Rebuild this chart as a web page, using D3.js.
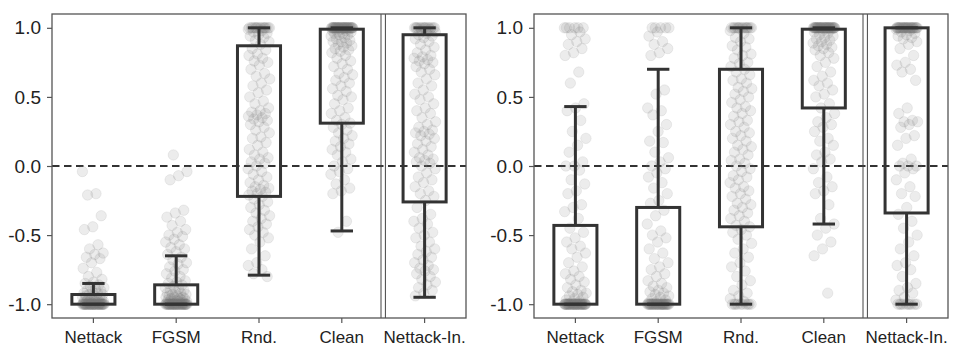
<!DOCTYPE html>
<html>
  <head>
    <meta charset="utf-8">
    <title>Box plots</title>
    <style media="screen">
      body {
        margin: 0;
        background: #fff;
      }
      text {
        font-family: "Liberation Sans", Arial, sans-serif;
        fill: #222;
      }
    </style>
  </head>
  <body>
    <div id="chart"></div>
  </body>
  <script type="text/javascript" src="https://cdnjs.cloudflare.com/ajax/libs/d3/7.8.5/d3.min.js"></script>
  <script type="text/javascript">
  var categories = ['Nettack', 'FGSM', 'Rnd.', 'Clean', 'Nettack-In.'];
  var yTicks = [-1.0, -0.5, 0.0, 0.5, 1.0];

  // left panel, one array per category
  var leftNettack = [-0.04,-0.2,-0.21,-0.36,-0.44,-0.46,-0.57,-0.6,-0.63,-0.64,-0.66,-0.67,-0.7,-0.74,-0.77,-0.8,-0.82,-0.84,-0.85,-0.86,-0.87,-0.88,-0.89,-0.9,-0.9,-0.91,-0.92,-0.92,-0.93,-0.93,-0.94,-0.94,-0.95,-0.95,-0.95,-0.96,-0.96,-0.96,-0.97,-0.97,-0.97,-0.98,-0.98,-0.98,-0.98,-0.99,-0.99,-0.99,-0.99,-0.99,
    -1,-1,-1,-1,-1,-1,-1,-1,-1,-1,-1,-1,-1,-1,-1,-1,-1,-1,-1,-1,-1,-1,-1,-1,-1,-1,-1,-1,-1,-1,-1,-1,-1,-1,-1,-1,-1,-1,-1,-1];
  var leftFgsm = [0.08,-0.04,-0.07,-0.1,-0.32,-0.34,-0.37,-0.4,-0.43,-0.46,-0.48,-0.5,-0.51,-0.53,-0.55,-0.57,-0.59,-0.6,-0.62,-0.64,-0.66,-0.68,-0.7,-0.71,-0.73,-0.75,-0.76,-0.78,-0.8,-0.81,-0.83,-0.84,-0.85,-0.86,-0.87,-0.88,-0.89,-0.9,-0.9,-0.91,-0.92,-0.92,-0.93,-0.93,-0.94,-0.94,-0.95,-0.95,-0.95,-0.96,-0.96,-0.96,-0.97,-0.97,-0.97,-0.98,-0.98,-0.98,-0.98,-0.99,-0.99,-0.99,-0.99,
    -1,-1,-1,-1,-1,-1,-1,-1,-1,-1,-1,-1,-1,-1,-1,-1,-1,-1,-1,-1,-1,-1,-1,-1,-1,-1,-1,-1,-1,-1,-1,-1,-1,-1,-1,-1,-1,-1,-1,-1];
  var leftRnd = [1,1,1,1,1,1,1,1,1,1,1,1,1,1,1,0.99,0.98,0.97,0.96,0.95,0.94,0.93,0.91,0.9,0.88,0.85,0.84,0.81,0.8,0.78,0.76,0.75,0.73,0.7,0.67,0.65,0.63,0.6,0.58,0.55,0.53,0.5,0.47,0.45,0.42,0.4,0.39,0.38,0.37,0.36,0.35,0.34,0.33,0.32,0.3,0.28,0.26,0.24,0.21,0.2,0.17,0.15,0.12,0.1,0.08,0.06,0.05,0.03,0.02,0.0,-0.02,-0.04,-0.06,-0.08,-0.1,-0.12,-0.14,-0.15,-0.16,-0.17,-0.18,-0.19,-0.2,-0.21,-0.22,-0.24,-0.26,-0.28,-0.3,-0.32,-0.34,-0.36,-0.38,-0.4,-0.42,-0.44,-0.46,-0.48,-0.5,-0.52,-0.55,-0.6,-0.65,-0.7,-0.72,-0.75,-0.78,-0.8];
  var leftClean = [1,1,1,1,1,1,1,1,1,1,1,1,1,1,1,1,1,1,1,1,1,1,1,1,1,1,1,1,1,1,1,1,1,1,1,1,1,1,1,1,
    0.99,0.99,0.98,0.98,0.97,0.97,0.96,0.96,0.95,0.95,0.94,0.93,0.92,0.91,0.9,0.9,0.89,0.88,0.87,0.86,0.85,0.84,0.83,0.82,0.8,0.78,0.76,0.74,0.72,0.7,0.67,0.66,0.64,0.62,0.6,0.58,0.56,0.54,0.51,0.5,0.48,0.45,0.42,0.4,0.38,0.35,0.33,0.31,0.3,0.28,0.26,0.24,0.22,0.2,0.18,0.16,0.14,0.12,0.1,0.08,0.05,0.03,0.0,-0.02,-0.04,-0.06,-0.1,-0.13,-0.16,-0.18,-0.2,-0.4,-0.48];
  var leftNettackIn = [1,1,1,1,1,1,1,1,1,1,1,1,1,1,1,0.99,0.98,0.97,0.96,0.95,0.94,0.93,0.92,0.9,0.88,0.86,0.84,0.82,0.8,0.79,0.78,0.77,0.76,0.75,0.74,0.72,0.7,0.68,0.66,0.63,0.6,0.58,0.55,0.52,0.5,0.48,0.45,0.42,0.4,0.38,0.35,0.32,0.3,0.28,0.26,0.25,0.24,0.23,0.22,0.2,0.18,0.16,0.14,0.12,0.1,0.08,0.06,0.05,0.04,0.03,0.02,0.0,-0.02,-0.05,-0.08,-0.1,-0.12,-0.15,-0.18,-0.2,-0.22,-0.25,-0.3,-0.35,-0.38,-0.4,-0.42,-0.45,-0.48,-0.5,-0.52,-0.55,-0.58,-0.6,-0.62,-0.64,-0.66,-0.68,-0.7,-0.72,-0.74,-0.75,-0.76,-0.78,-0.8,-0.82,-0.84,-0.86,-0.88,-0.9,-0.92,-0.94];

  // right panel
  var rightNettack = [1,1,1,1,1,1,0.97,0.95,0.92,0.9,0.88,0.85,0.82,0.8,0.68,0.6,0.45,0.42,0.4,0.33,0.25,0.2,0.15,0.1,0.03,0.0,0.0,-0.03,-0.1,-0.13,-0.18,-0.2,-0.28,-0.3,-0.33,-0.38,-0.45,-0.48,-0.52,-0.55,-0.58,-0.6,-0.63,-0.66,-0.7,-0.73,-0.76,-0.78,-0.8,-0.82,-0.84,-0.86,-0.88,-0.9,-0.91,-0.92,-0.93,-0.94,-0.95,-0.96,-0.97,-0.98,-0.99,
    -1,-1,-1,-1,-1,-1,-1,-1,-1,-1,-1,-1,-1,-1,-1,-1,-1,-1,-1,-1,-1,-1,-1,-1,-1,-1,-1,-1,-1,-1,-1,-1,-1,-1,-1,-1,-1,-1,-1,-1];
  var rightFgsm = [1,1,1,1,1,0.97,0.94,0.9,0.88,0.85,0.82,0.8,0.55,0.52,0.42,0.4,0.37,0.3,0.25,0.18,0.17,0.1,0.06,0.03,0.0,-0.02,-0.05,-0.08,-0.12,-0.16,-0.2,-0.25,-0.27,-0.32,-0.36,-0.42,-0.47,-0.5,-0.52,-0.55,-0.6,-0.63,-0.67,-0.7,-0.73,-0.75,-0.78,-0.8,-0.83,-0.85,-0.87,-0.88,-0.9,-0.91,-0.92,-0.93,-0.94,-0.95,-0.96,-0.97,-0.98,-0.99,
    -1,-1,-1,-1,-1,-1,-1,-1,-1,-1,-1,-1,-1,-1,-1,-1,-1,-1,-1,-1,-1,-1,-1,-1,-1,-1,-1,-1,-1,-1,-1,-1,-1,-1,-1];
  var rightRnd = [1,1,1,1,1,1,1,1,1,1,1,1,1,1,1,0.98,0.96,0.93,0.92,0.9,0.87,0.86,0.84,0.81,0.8,0.78,0.75,0.74,0.72,0.7,0.68,0.66,0.63,0.62,0.6,0.57,0.56,0.54,0.52,0.5,0.48,0.46,0.43,0.42,0.4,0.38,0.36,0.33,0.32,0.3,0.28,0.25,0.24,0.22,0.2,0.18,0.15,0.14,0.12,0.1,0.08,0.05,0.04,0.02,0.0,-0.02,-0.04,-0.07,-0.08,-0.1,-0.12,-0.15,-0.16,-0.18,-0.2,-0.22,-0.24,-0.27,-0.28,-0.3,-0.32,-0.34,-0.36,-0.38,-0.4,-0.43,-0.44,-0.46,-0.48,-0.5,-0.53,-0.56,-0.6,-0.63,-0.66,-0.7,-0.73,-0.76,-0.8,-0.83,-0.86,-0.9,-0.92,-0.94,-0.96,-0.98,
    -1,-1,-1,-1,-1,-1,-1,-1,-1,-1];
  var rightClean = [1,1,1,1,1,1,1,1,1,1,1,1,1,1,1,1,1,1,1,1,1,1,1,1,1,1,1,1,1,1,1,1,1,1,1,1,1,1,1,1,
    0.99,0.98,0.97,0.96,0.95,0.94,0.93,0.92,0.91,0.9,0.89,0.88,0.87,0.86,0.85,0.84,0.82,0.8,0.78,0.75,0.72,0.68,0.65,0.62,0.6,0.58,0.55,0.52,0.5,0.45,0.42,0.38,0.35,0.32,0.3,0.28,0.25,0.2,0.18,0.15,0.1,0.08,0.05,0.03,-0.02,-0.08,-0.12,-0.15,-0.18,-0.2,-0.28,-0.38,-0.42,-0.45,-0.5,-0.55,-0.6,-0.65,-0.92];
  var rightNettackIn = [1,1,1,1,1,1,1,1,1,1,1,1,1,1,1,1,1,1,1,1,1,1,1,1,1,1,1,1,1,1,
    0.99,0.98,0.97,0.96,0.95,0.94,0.93,0.92,0.9,0.88,0.85,0.8,0.75,0.73,0.7,0.68,0.62,0.42,0.38,0.33,0.32,0.32,0.3,0.28,0.22,0.2,0.15,0.05,0.02,0.0,0.0,0.0,-0.02,-0.05,-0.1,-0.15,-0.2,-0.22,-0.3,-0.35,-0.4,-0.45,-0.5,-0.55,-0.6,-0.65,-0.7,-0.72,-0.75,-0.8,-0.85,-0.88,-0.9,-0.92,-0.95,-0.97,
    -1,-1,-1,-1,-1,-1,-1,-1,-1,-1];

  // box stats (q1, q3, whisker ends)
  var leftQ1 = [-1.0, -1.0, -0.22, 0.31, -0.26];
  var leftQ3 = [-0.93, -0.86, 0.87, 0.99, 0.95];
  var leftLo = [-1.0, -1.0, -0.79, -0.47, -0.95];
  var leftHi = [-0.85, -0.65, 1.0, 1.0, 1.0];
  var rightQ1 = [-1.0, -1.0, -0.44, 0.42, -0.34];
  var rightQ3 = [-0.43, -0.30, 0.70, 0.99, 1.0];
  var rightLo = [-1.0, -1.0, -1.0, -0.42, -1.0];
  var rightHi = [0.43, 0.70, 1.0, 1.0, 1.0];

  var W = 958, H = 362;
  var plotTop = 14, plotBottom = 318, plotW = 414;

  var svg = d3.select('#chart').append('svg').attr('width', W).attr('height', H);

  var y = d3.scaleLinear().domain([-1.1, 1.1]).range([plotBottom, plotTop]);

  function drawPanel(left, groups, q1, q3, lo, hi) {
    let x = d3.scaleBand().domain(categories).range([left, left + plotW]).padding(0);
    let bw = x.bandwidth();
    let boxW = bw * 0.52;
    let capW = bw * 0.27;
    let g = svg.append('g');

    // dashed zero line
    g.append('line')
      .attr('x1', left).attr('x2', left + plotW)
      .attr('y1', y(0)).attr('y2', y(0))
      .style('stroke', '#333').style('stroke-width', 2)
      .style('stroke-dasharray', '7.5,4.5');

    // jittered points
    groups.forEach((vals, k) => {
      let cx = x(categories[k]) + bw / 2;
      g.append('g').selectAll('circle').data(vals).enter().append('circle')
        .attr('cx', (d, i) => cx + (((i * 0.618034 + k * 0.37) % 1) - 0.5) * 22)
        .attr('cy', d => y(d))
        .attr('r', 5.2)
        .style('fill', 'rgba(120,120,120,0.14)')
        .style('stroke', 'rgba(120,120,120,0.12)')
        .style('stroke-width', 1);
    });

    // boxes and whiskers
    categories.forEach((c, k) => {
      let cx = x(c) + bw / 2;
      let bg = g.append('g').style('stroke', '#333').style('stroke-width', 3).style('fill', 'none');
      bg.append('line').attr('x1', cx).attr('x2', cx).attr('y1', y(q3[k])).attr('y2', y(hi[k]));
      bg.append('line').attr('x1', cx).attr('x2', cx).attr('y1', y(q1[k])).attr('y2', y(lo[k]));
      bg.append('line').attr('x1', cx - capW / 2).attr('x2', cx + capW / 2).attr('y1', y(hi[k])).attr('y2', y(hi[k]));
      bg.append('line').attr('x1', cx - capW / 2).attr('x2', cx + capW / 2).attr('y1', y(lo[k])).attr('y2', y(lo[k]));
      bg.append('rect')
        .attr('x', cx - boxW / 2).attr('width', boxW)
        .attr('y', y(q3[k])).attr('height', y(q1[k]) - y(q3[k]));
    });

    // double separator before the last group
    let sep = x(categories[4]);
    [-2.2, 2.2].forEach(o => {
      g.append('line')
        .attr('x1', sep + o).attr('x2', sep + o)
        .attr('y1', plotTop).attr('y2', plotBottom)
        .style('stroke', '#444').style('stroke-width', 1);
    });

    // frame
    g.append('rect')
      .attr('x', left).attr('y', plotTop).attr('width', plotW).attr('height', plotBottom - plotTop)
      .style('fill', 'none').style('stroke', '#555').style('stroke-width', 1.3);

    let yAxis = g.append('g').attr('transform', 'translate(' + left + ',0)')
      .call(d3.axisLeft(y).tickValues(yTicks).tickSize(5).tickPadding(6).tickFormat(v => v.toFixed(1)));
    yAxis.select('.domain').remove();
    yAxis.selectAll('.tick line').style('stroke', '#555').style('stroke-width', 1.2);
    yAxis.selectAll('text').style('font-size', '19px').style('fill', '#222');

    let xAxis = g.append('g').attr('transform', 'translate(0,' + plotBottom + ')')
      .call(d3.axisBottom(x).tickSize(5).tickPadding(8));
    xAxis.select('.domain').remove();
    xAxis.selectAll('.tick line').style('stroke', '#555').style('stroke-width', 1.2);
    xAxis.selectAll('text').style('font-size', '17px').style('fill', '#222');
  }

  drawPanel(52, [leftNettack, leftFgsm, leftRnd, leftClean, leftNettackIn], leftQ1, leftQ3, leftLo, leftHi);
  drawPanel(534, [rightNettack, rightFgsm, rightRnd, rightClean, rightNettackIn], rightQ1, rightQ3, rightLo, rightHi);
  </script>
</html>
